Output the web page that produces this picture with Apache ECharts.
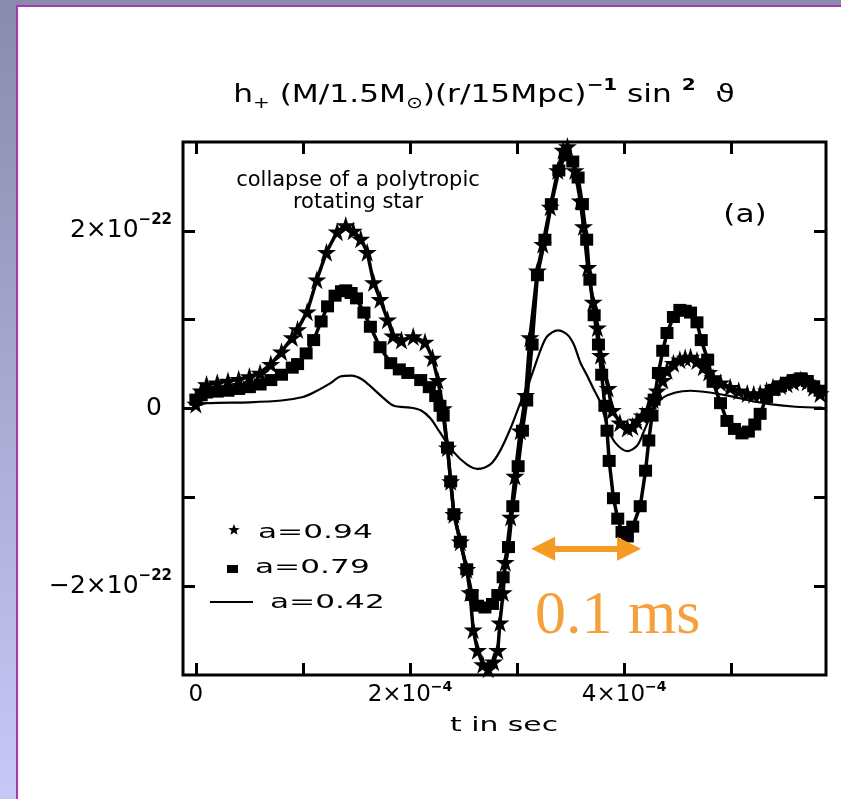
<!DOCTYPE html>
<html>
<head>
<meta charset="utf-8">
<script src="https://cdn.jsdelivr.net/npm/echarts@6/dist/echarts.min.js"></script>
<style>
  html, body { margin: 0; padding: 0; background: #ffffff; }
  #chart { width: 841px; height: 799px; }
</style>
</head>
<body>
<div id="chart"></div>
<script>
// Gravitational-wave amplitude h+ from the collapse of a rotating polytrope.
// Time in units of 1e-4 s, amplitude in units of 1e-22.

// a = 0.94 (star markers)
const tA094 = [0, 0.05, 0.1, 0.2, 0.3, 0.4, 0.5, 0.6, 0.7, 0.8,
  0.9, 0.95, 1.04, 1.13, 1.22, 1.32, 1.40, 1.47, 1.54, 1.60,
  1.66, 1.72, 1.79, 1.84, 1.92, 2.03, 2.14, 2.21, 2.26, 2.31,
  2.35, 2.38, 2.41, 2.47, 2.53, 2.56, 2.59, 2.63, 2.68, 2.73,
  2.78, 2.82, 2.84, 2.87, 2.89, 2.94, 2.98, 3.03, 3.08, 3.12,
  3.19, 3.24, 3.31, 3.38, 3.43, 3.47, 3.54, 3.59, 3.62, 3.66,
  3.71, 3.75, 3.78, 3.85, 3.89, 3.96, 4.03, 4.08, 4.12, 4.17,
  4.22, 4.27, 4.31, 4.36, 4.40, 4.46, 4.52, 4.57, 4.62, 4.68,
  4.74, 4.79, 4.83, 4.90, 4.99, 5.07, 5.15, 5.21, 5.27, 5.33,
  5.39, 5.46, 5.52, 5.58, 5.65, 5.71, 5.77, 5.83];
const hA094 = [0.05, 0.20, 0.27, 0.29, 0.31, 0.33, 0.36, 0.40, 0.50, 0.64,
  0.80, 0.89, 1.09, 1.45, 1.76, 1.99, 2.06, 2.00, 1.91, 1.76,
  1.42, 1.23, 1.00, 0.82, 0.77, 0.81, 0.75, 0.57, 0.32, 0.00,
  -0.44, -0.82, -1.19, -1.50, -1.81, -2.07, -2.49, -2.72, -2.88, -2.93,
  -2.85, -2.72, -2.41, -2.07, -1.73, -1.22, -0.76, -0.25, 0.15, 0.80,
  1.55, 1.85, 2.27, 2.68, 2.91, 2.95, 2.68, 2.34, 2.05, 1.59,
  1.20, 0.91, 0.60, 0.23, -0.02, -0.16, -0.22, -0.20, -0.14, -0.08,
  -0.02, 0.10, 0.20, 0.32, 0.43, 0.51, 0.55, 0.57, 0.58, 0.54,
  0.47, 0.41, 0.35, 0.29, 0.24, 0.20, 0.17, 0.16, 0.17, 0.20,
  0.24, 0.26, 0.28, 0.30, 0.32, 0.30, 0.24, 0.17];

// a = 0.79 (square markers)
const tA079 = [0, 0.05, 0.1, 0.2, 0.3, 0.4, 0.5, 0.6, 0.7, 0.8,
  0.9, 0.95, 1.03, 1.10, 1.17, 1.23, 1.30, 1.36, 1.40, 1.45,
  1.50, 1.57, 1.63, 1.72, 1.82, 1.90, 1.98, 2.10, 2.18, 2.24,
  2.28, 2.31, 2.35, 2.38, 2.41, 2.47, 2.53, 2.58, 2.63, 2.70,
  2.77, 2.82, 2.87, 2.92, 2.96, 3.01, 3.05, 3.09, 3.14, 3.19,
  3.26, 3.32, 3.39, 3.45, 3.52, 3.57, 3.61, 3.65, 3.68, 3.72,
  3.76, 3.79, 3.82, 3.84, 3.86, 3.90, 3.94, 3.98, 4.03, 4.08,
  4.15, 4.20, 4.23, 4.26, 4.28, 4.32, 4.36, 4.40, 4.46, 4.52,
  4.57, 4.62, 4.68, 4.72, 4.78, 4.83, 4.90, 4.96, 5.03, 5.10,
  5.16, 5.22, 5.27, 5.33, 5.40, 5.46, 5.52, 5.58, 5.65, 5.71,
  5.77, 5.83];
const hA079 = [0.10, 0.15, 0.18, 0.19, 0.20, 0.22, 0.24, 0.27, 0.32, 0.38,
  0.46, 0.50, 0.62, 0.77, 0.98, 1.15, 1.27, 1.32, 1.33, 1.30,
  1.24, 1.08, 0.92, 0.69, 0.51, 0.44, 0.40, 0.32, 0.24, 0.14,
  0.03, -0.08, -0.44, -0.82, -1.19, -1.50, -1.81, -2.10, -2.22, -2.24,
  -2.20, -2.10, -1.90, -1.56, -1.10, -0.65, -0.25, 0.09, 0.72, 1.50,
  1.90, 2.30, 2.68, 2.85, 2.78, 2.60, 2.30, 1.90, 1.45, 1.05,
  0.72, 0.38, 0.03, -0.25, -0.59, -1.01, -1.24, -1.39, -1.44, -1.33,
  -1.10, -0.70, -0.36, -0.08, 0.10, 0.40, 0.65, 0.85, 1.03, 1.11,
  1.10, 1.08, 0.97, 0.77, 0.55, 0.30, 0.06, -0.14, -0.23, -0.28,
  -0.26, -0.18, -0.06, 0.13, 0.21, 0.25, 0.29, 0.32, 0.34, 0.31,
  0.25, 0.20];

// a = 0.42 (plain thin line)
const tA042 = [0, 0.1, 0.5, 0.8, 1.0, 1.1, 1.25, 1.35, 1.45, 1.55,
  1.65, 1.75, 1.85, 2.0, 2.10, 2.19, 2.28, 2.40, 2.53, 2.63,
  2.75, 2.84, 2.94, 3.03, 3.12, 3.22, 3.28, 3.38, 3.47, 3.53,
  3.59, 3.65, 3.71, 3.78, 3.85, 3.92, 4.03, 4.12, 4.18, 4.26,
  4.35, 4.48, 4.62, 4.80, 4.99, 5.17, 5.36, 5.60, 5.85];
const hA042 = [0.02, 0.06, 0.07, 0.09, 0.13, 0.18, 0.28, 0.36, 0.37, 0.33,
  0.23, 0.12, 0.03, 0.01, -0.02, -0.11, -0.27, -0.48, -0.63, -0.68,
  -0.63, -0.48, -0.22, 0.06, 0.32, 0.66, 0.81, 0.88, 0.83, 0.72,
  0.52, 0.38, 0.23, 0.06, -0.23, -0.39, -0.48, -0.42, -0.27, -0.05,
  0.11, 0.18, 0.20, 0.18, 0.14, 0.09, 0.05, 0.02, 0.01];

// Tick positions (same units as the data)
const xTicks = [0, 1, 2, 3, 4, 5];
const xLabelTicks = [0, 2, 4];
const yTicks = [-2, -1, 0, 1, 2];
const yLabelTicks = [-2, 0, 2];

// Scale bar marking 0.1 ms
const scaleBarFrom = 3.243;
const scaleBarTo = 4.046;
const scaleBarLevel = -1.58;

const FONT = 'DejaVu Sans';
const ORANGE = '#f59a23';
const STAR = 'path://M50,0L61,35L98,35L68,57L79,91L50,70L21,91L32,57L2,35L39,35Z';

const pairs = (t, h) => t.map((x, i) => [x, h[i]]);

// five-pointed star outline for the key entry
function starPoints(cx, cy, rOut, rIn) {
  const pts = [];
  for (let k = 0; k < 10; k++) {
    const r = k % 2 === 0 ? rOut : rIn;
    const ang = -Math.PI / 2 + k * Math.PI / 5;
    pts.push([cx + r * Math.cos(ang), cy + r * Math.sin(ang)]);
  }
  return pts;
}

const chart = echarts.init(document.getElementById('chart'), null, { renderer: 'canvas' });

const tickStyle = { inside: true, length: 12, lineStyle: { color: '#000', width: 3 } };
const noLine = { show: false, onZero: false };

const option = {
  animation: false,
  backgroundColor: '#ffffff',
  textStyle: { fontFamily: FONT, color: '#000' },
  grid: {
    left: 183, right: 15, top: 142, bottom: 124,
    show: true, borderColor: '#000', borderWidth: 3, backgroundColor: 'transparent'
  },
  xAxis: [
    {
      type: 'value', min: -0.12, max: 5.885, position: 'bottom',
      axisLine: noLine, splitLine: { show: false },
      axisTick: Object.assign({ customValues: xTicks }, tickStyle),
      axisLabel: {
        customValues: xLabelTicks, margin: 5,
        formatter: v => v === 0 ? '{b|0}' : `{b|${v}×10}{s|−4}`,
        rich: {
          b: { fontFamily: FONT, fontSize: 23, lineHeight: 30, color: '#000' },
          s: { fontFamily: FONT, fontSize: 14, fontWeight: 'bold', lineHeight: 14, verticalAlign: 'top', color: '#000' }
        }
      }
    },
    {
      type: 'value', min: -0.12, max: 5.885, position: 'top',
      axisLine: noLine, splitLine: { show: false },
      axisTick: Object.assign({ customValues: xTicks }, tickStyle),
      axisLabel: { show: false }
    }
  ],
  yAxis: [
    {
      type: 'value', min: -3, max: 3, position: 'left',
      axisLine: noLine, splitLine: { show: false },
      axisTick: Object.assign({ customValues: yTicks }, tickStyle),
      axisLabel: {
        customValues: yLabelTicks, margin: 11,
        formatter: v => v === 0 ? '{z|0}' : `{b|${v < 0 ? '−' : ''}${Math.abs(v)}×10}{s|−22}`,
        rich: {
          b: { fontFamily: FONT, fontSize: 25, lineHeight: 36, color: '#000' },
          z: { fontFamily: FONT, fontSize: 25, lineHeight: 36, color: '#000', padding: [0, 10, 0, 0] },
          s: { fontFamily: FONT, fontSize: 15, fontWeight: 'bold', lineHeight: 15, verticalAlign: 'top', color: '#000' }
        }
      }
    },
    {
      type: 'value', min: -3, max: 3, position: 'right',
      axisLine: noLine, splitLine: { show: false },
      axisTick: Object.assign({ customValues: yTicks }, tickStyle),
      axisLabel: { show: false }
    }
  ],
  series: [
    {
      name: 'a=0.42', type: 'line', xAxisIndex: 0, yAxisIndex: 0,
      data: pairs(tA042, hA042),
      symbol: 'none', smooth: 0.3,
      lineStyle: { color: '#000', width: 2.2 },
      markLine: {
        silent: true, z: 10,
        symbol: ['triangle', 'triangle'], symbolSize: 24,
        label: { show: false },
        lineStyle: { color: ORANGE, width: 6, type: 'solid' },
        itemStyle: { color: ORANGE },
        data: [[
          { coord: [scaleBarFrom, scaleBarLevel] },
          { coord: [scaleBarTo, scaleBarLevel] }
        ]]
      }
    },
    {
      name: 'a=0.79', type: 'line', xAxisIndex: 0, yAxisIndex: 0,
      data: pairs(tA079, hA079),
      symbol: 'rect', symbolSize: [13, 12], showAllSymbol: true,
      itemStyle: { color: '#000' },
      lineStyle: { color: '#000', width: 3.5 }
    },
    {
      name: 'a=0.94', type: 'line', xAxisIndex: 0, yAxisIndex: 0,
      data: pairs(tA094, hA094),
      symbol: STAR, symbolSize: 19, showAllSymbol: true,
      itemStyle: { color: '#000' },
      lineStyle: { color: '#000', width: 3.5 }
    }
  ],
  graphic: [
    // slide frame
    {
      type: 'rect', silent: true, shape: { x: 0, y: 0, width: 16, height: 799 },
      style: { fill: new echarts.graphic.LinearGradient(0, 0, 0, 1, [
        { offset: 0, color: '#8a8aac' }, { offset: 1, color: '#c8c8f8' }
      ]) }
    },
    { type: 'rect', silent: true, shape: { x: 0, y: 0, width: 841, height: 5 }, style: { fill: '#8a8aac' } },
    { type: 'rect', silent: true, shape: { x: 16, y: 5, width: 2, height: 794 }, style: { fill: '#a838b0' } },
    { type: 'rect', silent: true, shape: { x: 16, y: 5, width: 825, height: 2 }, style: { fill: '#a838b0' } },

    // title
    {
      type: 'text', silent: true, x: 484, y: 95, scaleX: 1.25,
      style: {
        text: '{t|h}{sub|+}{t| (M/1.5M}{sub|⊙}{t|)(r/15Mpc)}{sup|−1}{t| sin }{sup|2}{t|  ϑ}',
        align: 'center', verticalAlign: 'middle', fill: '#000',
        rich: {
          t: { fontFamily: FONT, fontSize: 25, lineHeight: 34, fill: '#000' },
          sub: { fontFamily: FONT, fontSize: 16, lineHeight: 16, verticalAlign: 'bottom', fill: '#000' },
          sup: { fontFamily: FONT, fontSize: 16, fontWeight: 'bold', lineHeight: 16, verticalAlign: 'top', fill: '#000' }
        }
      }
    },

    // annotation inside the frame
    {
      type: 'text', silent: true, x: 358, y: 192,
      style: {
        text: 'collapse of a polytropic\nrotating star',
        fontFamily: FONT, fontSize: 21, lineHeight: 22,
        align: 'center', verticalAlign: 'middle', fill: '#000'
      }
    },
    {
      type: 'text', silent: true, x: 745, y: 216, scaleX: 1.3,
      style: { text: '(a)', fontFamily: FONT, fontSize: 24, align: 'center', verticalAlign: 'middle', fill: '#000' }
    },

    // key
    { type: 'polygon', silent: true, shape: { points: starPoints(234, 530, 6, 2.6) }, style: { fill: '#000' } },
    {
      type: 'text', silent: true, x: 258, y: 533, scaleX: 1.56,
      style: { text: 'a=0.94', fontFamily: FONT, fontSize: 20, align: 'left', verticalAlign: 'middle', fill: '#000' }
    },
    { type: 'rect', silent: true, shape: { x: 227, y: 565, width: 11, height: 8 }, style: { fill: '#000' } },
    {
      type: 'text', silent: true, x: 255, y: 568, scaleX: 1.56,
      style: { text: 'a=0.79', fontFamily: FONT, fontSize: 20, align: 'left', verticalAlign: 'middle', fill: '#000' }
    },
    { type: 'rect', silent: true, shape: { x: 210, y: 601, width: 43, height: 2 }, style: { fill: '#000' } },
    {
      type: 'text', silent: true, x: 270, y: 603, scaleX: 1.56,
      style: { text: 'a=0.42', fontFamily: FONT, fontSize: 20, align: 'left', verticalAlign: 'middle', fill: '#000' }
    },

    // x axis title
    {
      type: 'text', silent: true, x: 504, y: 726, scaleX: 1.49,
      style: { text: 't in sec', fontFamily: FONT, fontSize: 20, align: 'center', verticalAlign: 'middle', fill: '#000' }
    },

    // scale bar caption
    {
      type: 'text', silent: true, x: 535, y: 617,
      style: { text: '0.1 ms', fontFamily: 'Liberation Serif', fontSize: 62, align: 'left', verticalAlign: 'middle', fill: '#f5a03a' }
    }
  ]
};

chart.setOption(option);
</script>
</body>
</html>
